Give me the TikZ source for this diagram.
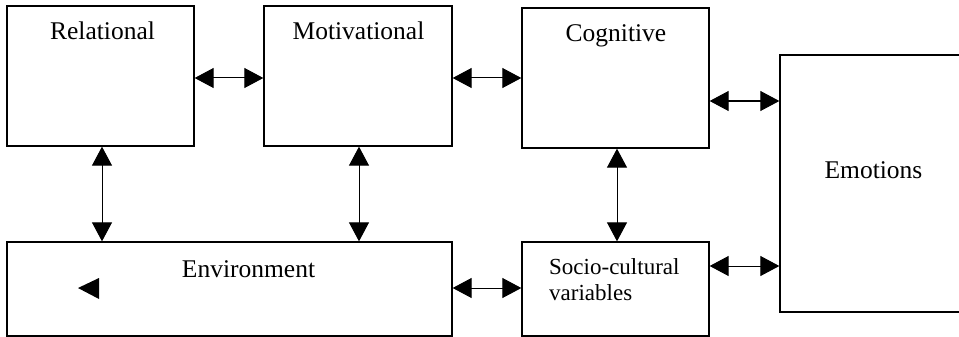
\documentclass[tikz,border=0pt]{standalone}
\usepackage{fontspec}
\setmainfont{Liberation Serif}
\usetikzlibrary{arrows.meta}
\begin{document}
\begin{tikzpicture}[x=1pt,y=-1pt,
  box/.style={draw=black, line width=1.3pt, rectangle, inner sep=0pt, fill=white},
  lbl/.style={inner sep=0pt, font=\fontsize{25.5}{30}\selectfont},
  slbl/.style={inner sep=0pt, font=\fontsize{23}{27}\selectfont},
  arr/.style={line width=1pt, {Triangle[length=19pt,width=20pt]}-{Triangle[length=19pt,width=20pt]}}]
\path[use as bounding box] (0,0) rectangle (959,337);
\clip (0,0) rectangle (959,337);
\fill[white] (0,0) rectangle (959,337);
% boxes
\node[box, minimum width=187pt, minimum height=140pt] (rel) at (100.5,76) {};
\node[box, minimum width=188pt, minimum height=140pt] (mot) at (358,76) {};
\node[box, minimum width=187pt, minimum height=140pt] (cog) at (615.5,78) {};
\node[box, minimum width=186pt, minimum height=257pt] (emo) at (873,183.5) {};
\node[box, minimum width=445pt, minimum height=94pt] (env) at (229.5,289) {};
\node[box, minimum width=187pt, minimum height=94pt] (soc) at (615.5,289) {};
% labels
\node[lbl, anchor=base] (trel) at (102.5,40) {Relational};
\node[lbl, anchor=base] (tmot) at (358.5,40) {Motivational};
\node[lbl, anchor=base] (tcog) at (616,42) {Cognitive};
\node[lbl, anchor=base] (temo) at (873.5,178) {Emotions};
\node[lbl, anchor=base] (tenv) at (248.5,277) {Environment};
\node[slbl, anchor=base west] (tsoc1) at (549,274) {Socio-cultural};
\node[slbl, anchor=base west] (tsoc2) at (549,300) {variables};
% guide coordinates
\coordinate (ya) at (0,78);
\coordinate (yb) at (0,101);
\coordinate (yc) at (0,266);
\coordinate (yd) at (0,288);
\coordinate (xa) at (102,0);
\coordinate (xb) at (359,0);
\coordinate (xc) at (617,0);
% connectors
\draw[arr] (rel.east |- ya) -- (mot.west |- ya);
\draw[arr] (mot.east |- ya) -- (cog.west |- ya);
\draw[arr] (cog.east |- yb) -- (emo.west |- yb);
\draw[arr] (soc.east |- yc) -- (emo.west |- yc);
\draw[arr] (env.east |- yd) -- (soc.west |- yd);
\draw[arr] (xa |- rel.south) -- (xa |- env.north);
\draw[arr] (xb |- mot.south) -- (xb |- env.north);
\draw[arr] (xc |- cog.south) -- (xc |- soc.north);
% stray arrowhead inside Environment
\fill[black] (78,288) -- (99,278) -- (99,299) -- cycle;
\end{tikzpicture}
\end{document}
